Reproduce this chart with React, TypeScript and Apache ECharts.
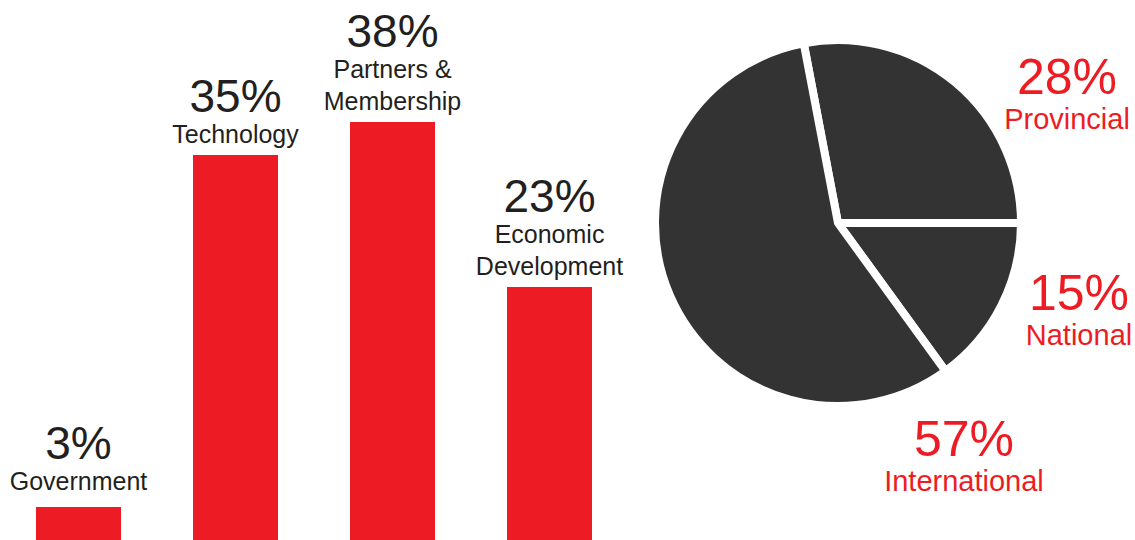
import React, { useEffect, useRef } from "react";
import * as echarts from "echarts";

const barCategories = ["Government", "Technology", "Partners &\nMembership", "Economic\nDevelopment"];
const barValues = [3, 35, 38, 23];
const pieNames = ["Provincial", "National", "International"];
const pieValues = [28, 15, 57];
// label anchor points for pie labels (centre x, top y)
const pieLabelAnchors = [
  [1067, 52],
  [1079, 268],
  [964, 414],
];

const RED = "#ed1c24";
const DARK = "#231f20";
const PIE = "#333333";
const FONT = "'Liberation Sans', Arial, sans-serif";

export default function App() {
  const ref = useRef<HTMLDivElement>(null);
  useEffect(() => {
    if (!ref.current) return;
    const chart = echarts.init(ref.current, undefined, { renderer: "svg" });
    chart.setOption({
      animation: false,
      backgroundColor: "#ffffff",
      textStyle: { fontFamily: FONT },
      grid: { left: -5, width: 633, top: 0, bottom: 0 },
      xAxis: {
        type: "category",
        data: barCategories,
        axisLine: { show: false },
        axisTick: { show: false },
        axisLabel: { show: false },
        splitLine: { show: false },
      },
      yAxis: {
        type: "value",
        min: 0,
        max: 540 / 11,
        show: false,
        splitLine: { show: false },
      },
      series: [
        {
          type: "bar",
          barWidth: 85,
          itemStyle: { color: RED },
          data: barValues.map((v, i) => ({
            value: v,
            label: { distance: i === 0 ? 10 : 5 },
          })),
          label: {
            show: true,
            position: "top",
            distance: 5,
            color: DARK,
            fontFamily: FONT,
            formatter: (p: any) => {
              const lines = String(barCategories[p.dataIndex]).split("\n");
              return `{v|${p.value}%}\n` + lines.map((l) => `{n|${l}}`).join("\n");
            },
            rich: {
              v: { fontSize: 46, lineHeight: 44, color: DARK, fontFamily: FONT, align: "center" },
              n: { fontSize: 25, lineHeight: 32, color: DARK, fontFamily: FONT, align: "center" },
            },
          },
        },
        {
          type: "pie",
          center: [838, 223],
          radius: 183,
          startAngle: 100.8,
          clockwise: true,
          avoidLabelOverlap: false,
          itemStyle: { color: PIE, borderColor: "#ffffff", borderWidth: 8 },
          emphasis: { disabled: true },
          labelLine: { show: false },
          data: pieNames.map((n, i) => ({ name: n, value: pieValues[i] })),
          label: {
            show: true,
            position: "outside",
            color: RED,
            fontFamily: FONT,
            formatter: (p: any) => `{v|${p.value}%}\n{n|${p.name}}`,
            rich: {
              v: { fontSize: 50, lineHeight: 50, color: RED, fontFamily: FONT, align: "center" },
              n: { fontSize: 29, lineHeight: 34, color: RED, fontFamily: FONT, align: "center" },
            },
          },
          labelLayout: (params: any) => {
            const a = pieLabelAnchors[params.dataIndex];
            return { x: a[0], y: a[1], align: "center", verticalAlign: "top" };
          },
        },
      ],
    });
    return () => chart.dispose();
  }, []);
  return (
    <div
      ref={ref}
      style={{ position: "fixed", left: 0, top: 0, width: 1135, height: 540 }}
    />
  );
}
